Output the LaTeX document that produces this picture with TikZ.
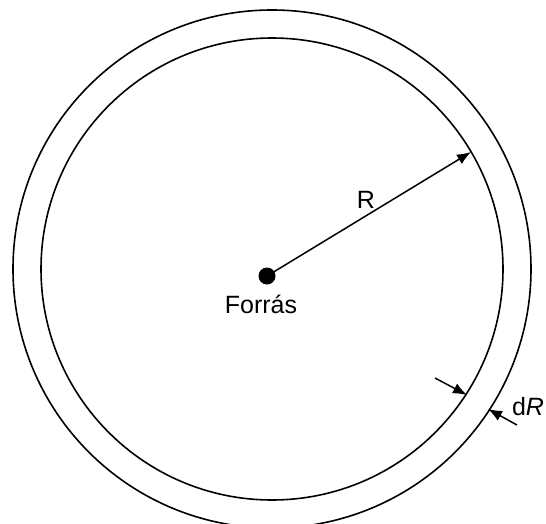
\documentclass[tikz,border=0pt]{standalone}
\usepackage{fontspec}
\setmainfont{Liberation Sans}
\usetikzlibrary{arrows.meta}
\begin{document}
\begin{tikzpicture}[x=1pt,y=-1pt,
  ring/.style={line width=1.6pt},
  arr/.style={line width=1.5pt,-{Latex[length=14pt,width=11pt]}},
  lbl/.style={font=\fontsize{25}{28}\selectfont,inner sep=0pt}]
\useasboundingbox (0,0) rectangle (546,524);
\coordinate (c) at (272,269);
\draw[ring] (c) circle[radius=259pt];
\draw[ring] (c) circle[radius=231pt];
\node[circle,fill=black,minimum size=17pt,inner sep=0pt] (src) at (267,276) {};
\node[lbl,anchor=base] (forras) at (261,313) {Forrás};
\coordinate (rtip) at (471,152);
\draw[arr] (src.center) -- (rtip);
\node[lbl] (rlabel) at (366,200) {R};
\coordinate (a1) at (435,378);
\coordinate (t1) at (467,395);
\draw[arr] (a1) -- (t1);
\coordinate (a2) at (517,425);
\coordinate (t2) at (488,409);
\draw[arr] (a2) -- (t2);
\node[lbl] (dr) at (528,407) {d\textit{R}};
\end{tikzpicture}
\end{document}
